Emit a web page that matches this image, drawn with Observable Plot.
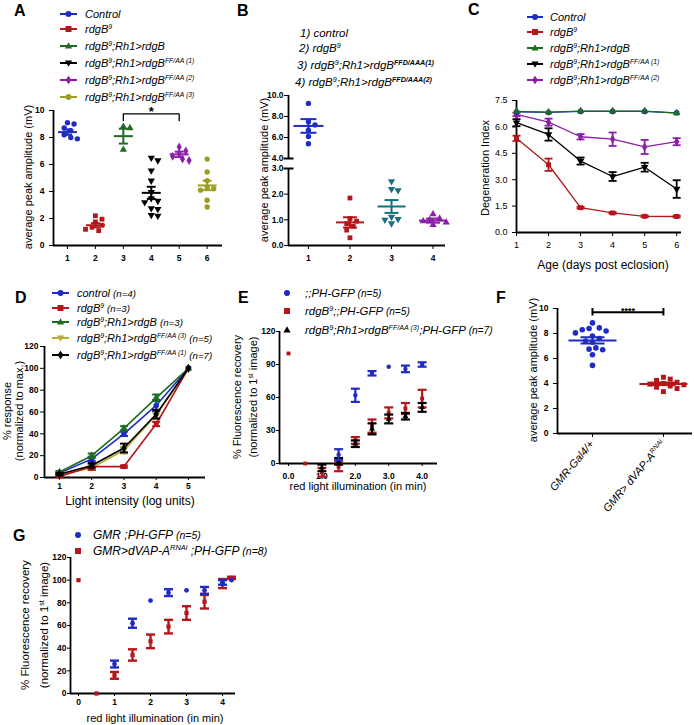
<!DOCTYPE html>
<html><head><meta charset="utf-8">
<script src="https://cdn.jsdelivr.net/npm/d3@7"></script>
<script src="https://cdn.jsdelivr.net/npm/@observablehq/plot@0.6"></script>
<style>
html,body{margin:0;padding:0;background:#fff;}
#root{position:relative;width:694px;height:725px;overflow:hidden;font-family:"Liberation Sans",Arial,Helvetica,sans-serif;color:#000;background:#fff;}
.t{position:absolute;white-space:nowrap;line-height:13px;}
.lg{font-style:italic;font-size:11px;}
.ax{font-size:11px;text-align:center;}
.s{font-size:0.62em;vertical-align:0.55em;line-height:0;}
.n{font-size:0.88em;}
.L{font-weight:bold;font-size:16px;line-height:16px;}
</style></head><body><div id="root"></div><script>
// ================= DATA =================
// Panel A : average peak amplitude (mV), groups 1..6
const aGroups = [1, 2, 3, 4, 5, 6];
const aLegend = ["Control", "rdgB<span class='s'>9</span>", "rdgB<span class='s'>9</span>;Rh1&gt;rdgB",
  "rdgB<span class='s'>9</span>;Rh1&gt;rdgB<span class='s'>FF/AA (1)</span>",
  "rdgB<span class='s'>9</span>;Rh1&gt;rdgB<span class='s'>FF/AA (2)</span>",
  "rdgB<span class='s'>9</span>;Rh1&gt;rdgB<span class='s'>FF/AA (3)</span>"];
const aControl = [9.1, 9.0, 8.7, 8.5, 8.2, 8.0, 7.9];
const aRdgB9 = [2.2, 1.95, 1.75, 1.5, 1.35, 1.2, 1.1];
const aRescue = [8.8, 8.7, 7.1];
const aFF1 = [6.5, 6.3, 5.55, 4.8, 3.95, 3.5, 3.3, 3.2, 2.75, 2.7, 2.25, 2.2];
const aFF2 = [7.3, 7.0, 6.8, 6.6, 6.4, 6.3];
const aFF3 = [6.4, 5.45, 4.8, 4.3, 4.2, 4.1, 3.35, 2.85];
const aMean = [8.4, 1.5, 8.1, 3.9, 6.75, 4.45];
const aSem = [0.2, 0.15, 0.55, 0.45, 0.2, 0.35];
const aYTicks = [0, 2, 4, 6, 8, 10];
const aSig = {from: 3, to: 5, level: 9.75, drop: 9.25, label: "*"};

// Panel B
const bGroups = [1, 2, 3, 4];
const bKey = ["1) control", "2) rdgB<span class='s'>9</span>",
  "3) rdgB<span class='s'>9</span>;Rh1&gt;rdgB<span class='s' style='font-weight:bold'>FFD/AAA(1)</span>",
  "4) rdgB<span class='s'>9</span>;Rh1&gt;rdgB<span class='s' style='font-weight:bold'>FFD/AAA(2)</span>"];
const bControl = [9.25, 7.5, 7.2, 6.7, 6.1, 5.4];
const bRdgB9 = [1.85, 1.05, 0.95, 0.85, 0.75, 0.6, 0.3];
const bFFD1 = [2.5, 2.2, 2.15, 1.12, 1.03, 1.0, 0.86];
const bFFD2 = [1.22, 1.05, 1.0, 0.95, 0.9, 0.8];
const bMean = [7.1, 0.9, 1.52, 0.97];
const bSem = [0.65, 0.2, 0.25, 0.08];
const bUpperTicks = [4, 6, 8, 10];
const bLowerTicks = [0, 1, 2, 3];

// Panel C : degeneration index vs age
const cDays = [1, 2, 3, 4, 5, 6];
const cLegend = ["Control", "rdgB<span class='s'>9</span>", "rdgB<span class='s'>9</span>;Rh1&gt;rdgB",
  "rdgB<span class='s'>9</span>;Rh1&gt;rdgB<span class='s'>FF/AA (1)</span>",
  "rdgB<span class='s'>9</span>;Rh1&gt;rdgB<span class='s'>FF/AA (2)</span>"];
const cControl = [6.85, 6.82, 6.88, 6.88, 6.88, 6.8];
const cRescue = [6.88, 6.84, 6.9, 6.9, 6.9, 6.78];
const cRdgB9 = [5.35, 3.85, 1.41, 1.11, 0.92, 0.91];
const cRdgB9Err = [0.15, 0.35, 0.05, 0.05, 0.05, 0.05];
const cFF1 = [6.24, 5.57, 4.06, 3.18, 3.71, 2.47];
const cFF1Err = [0.2, 0.35, 0.2, 0.25, 0.25, 0.5];
const cFF2 = [6.71, 6.27, 5.44, 5.3, 4.86, 5.16];
const cFF2Err = [0.1, 0.2, 0.15, 0.38, 0.4, 0.2];
const cYTicks = [0, 1.5, 3, 4.5, 6, 7.5];

// Panel D : % response vs light intensity
const dIntensity = [1, 2, 3, 4, 5];
const dLegend = ["control <span class='n'>(n=4)</span>", "rdgB<span class='s'>9</span> <span class='n'>(n=3)</span>",
  "rdgB<span class='s'>9</span>;Rh1&gt;rdgB <span class='n'>(n=3)</span>",
  "rdgB<span class='s'>9</span>;Rh1&gt;rdgB<span class='s'>FF/AA (3)</span> <span class='n'>(n=5)</span>",
  "rdgB<span class='s'>9</span>;Rh1&gt;rdgB<span class='s'>FF/AA (1)</span> <span class='n'>(n=7)</span>"];
const dControl = [4, 17, 40, 66, 100];
const dControlErr = [1, 2, 2, 5, 0];
const dRdgB9 = [1, 10, 10, 49, 100];
const dRdgB9Err = [0.5, 3, 1, 2, 0];
const dRescue = [5, 20, 45, 73, 100];
const dRescueErr = [1, 2, 2, 3, 0];
const dFF3 = [2, 9, 25, 57, 100];
const dFF3Err = [0.5, 2, 3, 3, 0];
const dFF1 = [3, 11, 27, 58, 100];
const dFF1Err = [1, 2, 4, 4, 0];
const dYTicks = [0, 20, 40, 60, 80, 100, 120];

// Panel E : fluorescence recovery vs time
const eTime = [0, 0.5, 1, 1.5, 2, 2.5, 3, 3.5, 4];
const eLegend = [";;PH-GFP <span class='n'>(n=5)</span>", "rdgB<span class='s'>9</span>;;PH-GFP <span class='n'>(n=5)</span>",
  "rdgB<span class='s'>9</span>;Rh1&gt;rdgB<span class='s'>FF/AA (3)</span>;PH-GFP <span class='n'>(n=7)</span>"];
const eControl = [null, null, null, 8, 62, 82, 88, 86, 90];
const eControlErr = [0, 0, 0, 5, 6, 2, 0, 3, 2];
const eRdgB9 = [100, 0, -8, -3, 21, 34, 46, 50, 59];
const eRdgB9Err = [0, 0, 4, 4, 3, 6, 5, 5, 8];
const eFF3 = [null, null, -4, 2, 18, 31.5, 40.5, 43, 51];
const eFF3Err = [0, 0, 3, 3, 3, 5, 4, 3, 4];
const eXTicks = [0, 1, 2, 3, 4];
const eYTicks = [0, 30, 60, 90, 120];

// Panel F
const fGroups = [1, 2];
const fTickLabels = ["GMR-Gal4/+", "GMR&gt; dVAP-A<span class='s'>RNAi</span>"];
const fControl = [8.85, 8.45, 8.4, 8.3, 8.2, 8.05, 7.8, 7.6, 7.4, 7.3, 6.85, 6.75, 6.7, 6.3, 5.45];
const fVap = [4.5, 4.35, 4.25, 4.1, 4.0, 3.95, 3.9, 3.8, 3.7, 3.6, 3.35];
const fMean = [7.45, 3.97];
const fSem = [0.25, 0.1];
const fYTicks = [0, 2, 4, 6, 8, 10];
const fSig = {from: 1, to: 2, level: 9.7, low: 9.4, high: 10.0, label: "****"};

// Panel G
const gTime = [0, 0.5, 1, 1.5, 2, 2.5, 3, 3.5, 4, 4.25];
const gLegend = ["GMR ;PH-GFP <span class='n'>(n=5)</span>", "GMR&gt;dVAP-A<span class='s'>RNAi</span> ;PH-GFP <span class='n'>(n=8)</span>"];
const gControl = [null, null, 26, 62, 82, 89, 91, 91, 98, 100];
const gControlErr = [0, 0, 3, 4, 0, 3, 0, 3, 2, 0];
const gVap = [100, 0, 16, 34, 46, 59, 71, 81, 97, 102];
const gVapErr = [0, 0, 3, 5, 6, 6, 6, 6, 4, 1];
const gXTicks = [0, 1, 2, 3, 4];
const gYTicks = [0, 20, 40, 60, 80, 100, 120];

// ================= STYLE =================
const BLUE = "#1f2bc4", RED = "#b3161b", GREEN = "#1e6b22", PURPLE = "#8c1fa8",
      OLIVE = "#9e9c25", TEAL = "#1b6f7c", BLACK = "#000000", YELLOW = "#b5ae35";
const FONT = '"Liberation Sans", Arial, Helvetica, sans-serif';
const TICK = 8.5;
const root = document.getElementById("root");

function pstyle(size = TICK, weight = "bold") {
  return {fontFamily: FONT, fontSize: size + "px", fontWeight: weight, background: "transparent", overflow: "visible", color: "#000"};
}
function put(html, x, y, cls = "", css = "") {
  const d = document.createElement("div");
  d.className = "t " + cls; d.innerHTML = html;
  d.style.left = x + "px"; d.style.top = y + "px";
  if (css) d.style.cssText += css;
  root.appendChild(d); return d;
}
function putMid(html, x, y, cls = "", css = "") { return put(html, x, y, cls, "transform:translateY(-50%);" + css); }
function putRot(html, cx, cy, cls = "", css = "") { return put(html, cx, cy, cls, "transform:translate(-50%,-50%) rotate(-90deg);" + css); }
function addPlot(svg, x, y) {
  svg.style.position = "absolute"; svg.style.left = x + "px"; svg.style.top = y + "px";
  root.appendChild(svg);
}

const sq3 = Math.sqrt(3);
const triDown = {draw(ctx, size) { const y = -Math.sqrt(size / (sq3 * 3)); ctx.moveTo(0, -y * 2); ctx.lineTo(-sq3 * y, y); ctx.lineTo(sq3 * y, y); ctx.closePath(); }};
const hbar = {draw(ctx, size) { const r = Math.sqrt(size / Math.PI); ctx.moveTo(-r, 0); ctx.lineTo(r, 0); }};
function sym(shape) { return shape === "triDown" ? triDown : shape; }

function symbolSVG(shape, color, line, w) {
  const h = 10, cx = w / 2, cy = 5;
  let m = "";
  if (shape === "circle") m = `<circle cx="${cx}" cy="${cy}" r="3" fill="${color}"/>`;
  else if (shape === "square") m = `<rect x="${cx - 3}" y="${cy - 3}" width="6" height="6" fill="${color}"/>`;
  else if (shape === "triangle") m = `<path d="M${cx},${cy - 3.8}L${cx + 3.6},${cy + 2.6}L${cx - 3.6},${cy + 2.6}Z" fill="${color}"/>`;
  else if (shape === "triDown") m = `<path d="M${cx},${cy + 3.8}L${cx + 3.6},${cy - 2.6}L${cx - 3.6},${cy - 2.6}Z" fill="${color}"/>`;
  else if (shape === "diamond") m = `<path d="M${cx},${cy - 4.2}L${cx + 3},${cy}L${cx},${cy + 4.2}L${cx - 3},${cy}Z" fill="${color}"/>`;
  const l = line ? `<line x1="0" x2="${w}" y1="${cy}" y2="${cy}" stroke="${color}" stroke-width="2"/>` : "";
  return `<svg width="${w}" height="${h}" style="display:block">${l}${m}</svg>`;
}
function legend(labels, colors, shapes, line, symX, symW, textX, rows, fontSize = 11) {
  labels.forEach((lab, i) => {
    put(symbolSVG(shapes[i], colors[i], line, symW), symX, rows[i] - 5);
    putMid(lab, textX, rows[i], "lg", `font-size:${fontSize}px;`);
  });
}

function swarm(vals, yPx, xPx, d) {
  const order = vals.map((_, i) => i).sort((a, b) => vals[b] - vals[a]);
  const placed = [], off = new Array(vals.length).fill(0);
  for (const i of order) {
    const py = vals[i] * yPx;
    for (let k = 0; k < 60; k++) {
      const c = k === 0 ? 0 : (k % 2 ? 1 : -1) * Math.ceil(k / 2) * d * 0.55;
      if (placed.every(p => Math.hypot(p.x - c, p.y - py) >= d)) { placed.push({x: c, y: py}); off[i] = c / xPx; break; }
    }
  }
  return off;
}

function scatterGroup(x, vals, mean, sem, color, shape, o) {
  const off = swarm(vals, o.yPx, o.xPx, 2 * o.r + 0.6);
  const pts = vals.map((v, i) => ({x: x + off[i], y: v}));
  const m = [{x, y: mean, lo: mean - sem, hi: mean + sem}];
  return [
    Plot.dot(pts, {x: "x", y: "y", symbol: sym(shape), r: o.r, fill: color, stroke: "none"}),
    Plot.ruleX(m, {x: "x", y1: "lo", y2: "hi", stroke: color, strokeWidth: 2}),
    Plot.dot(m, {x: "x", y: "y", symbol: hbar, r: o.mw, stroke: color, fill: "none", strokeWidth: 2}),
    Plot.dot(m, {x: "x", y: "lo", symbol: hbar, r: o.cw, stroke: color, fill: "none", strokeWidth: 2}),
    Plot.dot(m, {x: "x", y: "hi", symbol: hbar, r: o.cw, stroke: color, fill: "none", strokeWidth: 2})
  ];
}

function series(xs, ys, es) {
  return xs.map((x, i) => ({x, y: ys[i], e: es ? es[i] : 0})).filter(d => d.y !== null);
}
function errMarks(pts, color, shape, r, capR, sw = 2) {
  const we = pts.filter(d => d.e > 0);
  return [
    Plot.ruleX(we, {x: "x", y1: d => d.y - d.e, y2: d => d.y + d.e, stroke: color, strokeWidth: sw}),
    Plot.dot(we, {x: "x", y: d => d.y - d.e, symbol: hbar, r: capR, stroke: color, fill: "none", strokeWidth: sw}),
    Plot.dot(we, {x: "x", y: d => d.y + d.e, symbol: hbar, r: capR, stroke: color, fill: "none", strokeWidth: sw}),
    Plot.dot(pts, {x: "x", y: "y", symbol: sym(shape), r, fill: color, stroke: "none"})
  ];
}
function axesLines(x0, y0) {
  return [Plot.ruleX([x0], {stroke: "#000", strokeWidth: 1.8}), Plot.ruleY([y0], {stroke: "#000", strokeWidth: 1.8})];
}

// ================= PANEL A =================
{
  const xd = [0.5, 6.55];
  const groups = [aControl, aRdgB9, aRescue, aFF1, aFF2, aFF3];
  const colors = [BLUE, RED, GREEN, BLACK, PURPLE, OLIVE];
  const shapes = ["circle", "square", "triangle", "triDown", "diamond", "circle"];
  const o = {yPx: 13.5, xPx: 28, r: 2.7, mw: 9.5, cw: 4.5};
  const br = [{x: aSig.from, y: aSig.drop}, {x: aSig.from, y: aSig.level}, {x: aSig.to, y: aSig.level}, {x: aSig.to, y: aSig.drop}];
  const svg = Plot.plot({
    width: 228, height: 170, marginLeft: 53, marginTop: 10, marginBottom: 25, marginRight: 6,
    style: pstyle(),
    x: {domain: xd, ticks: aGroups, tickFormat: d => d, tickSize: 4, label: null},
    y: {domain: [0, 10], ticks: aYTicks, tickSize: 4, label: null},
    marks: [
      ...axesLines(xd[0], 0),
      ...groups.flatMap((g, i) => scatterGroup(aGroups[i], g, aMean[i], aSem[i], colors[i], shapes[i], o)),
      Plot.line(br, {x: "x", y: "y", stroke: "#000", strokeWidth: 1.3}),
      Plot.text([aSig], {x: d => (d.from + d.to) / 2, y: "level", text: "label", dy: -2, fontSize: 13, fontWeight: "bold"})
    ]
  });
  addPlot(svg, 0, 100);
  put("A", 14, 3, "L");
  legend(aLegend, colors, shapes, true, 60, 17, 85, [14, 29, 46, 63, 80, 97]);
  putRot("average peak amplitude (mV)", 28, 177, "ax");
}

// ================= PANEL B =================
{
  const xd = [0.52, 4.3];
  const o = {yPx: 10.5, xPx: 41.7, r: 2.7, mw: 15, cw: 8};
  const up = Plot.plot({
    width: 200, height: 77, marginLeft: 38, marginTop: 10, marginBottom: 4, marginRight: 5,
    style: pstyle(),
    x: {domain: xd, axis: null},
    y: {domain: [4, 10], ticks: bUpperTicks, tickSize: 4, tickPadding: 1, label: null},
    marks: [
      Plot.ruleX([xd[0]], {stroke: "#000", strokeWidth: 1.8}),
      Plot.dot([{x: xd[0], y: bUpperTicks[0]}], {x: "x", y: "y", symbol: hbar, r: 5, stroke: "#000", strokeWidth: 2}),
      ...scatterGroup(bGroups[0], bControl, bMean[0], bSem[0], BLUE, "circle", o)
    ]
  });
  addPlot(up, 250, 85);
  const o2 = {yPx: 25.7, xPx: 41.7, r: 2.7, mw: 14, cw: 7};
  const lo = Plot.plot({
    width: 200, height: 105, marginLeft: 38, marginTop: 8, marginBottom: 20, marginRight: 5,
    style: pstyle(),
    x: {domain: xd, ticks: bGroups, tickFormat: d => d, tickSize: 4, label: null},
    y: {domain: [0, 3], ticks: bLowerTicks, tickSize: 4, tickPadding: 1, label: null},
    marks: [
      ...axesLines(xd[0], 0),
      Plot.dot([{x: xd[0], y: bLowerTicks[3]}], {x: "x", y: "y", symbol: hbar, r: 5, stroke: "#000", strokeWidth: 2}),
      ...scatterGroup(bGroups[1], bRdgB9, bMean[1], bSem[1], RED, "square", o2),
      ...scatterGroup(bGroups[2], bFFD1, bMean[2], bSem[2], TEAL, "triDown", o2),
      ...scatterGroup(bGroups[3], bFFD2, bMean[3], bSem[3], PURPLE, "triangle", o2)
    ]
  });
  addPlot(lo, 250, 160);
  put("B", 237, 3, "L");
  const bx = [300, 299, 297, 295], by = [33, 48, 65, 82];
  bKey.forEach((k, i) => putMid(k, bx[i], by[i], "lg", "font-size:11.5px;"));
  putRot("average peak amplitude (mV)", 264, 170, "ax");
}

// ================= PANEL C =================
{
  const xd = [1, 6.15];
  const S = [
    {d: series(cDays, cRdgB9, cRdgB9Err), c: RED, s: "square"},
    {d: series(cDays, cFF1, cFF1Err), c: BLACK, s: "triDown"},
    {d: series(cDays, cFF2, cFF2Err), c: PURPLE, s: "diamond"},
    {d: series(cDays, cControl, null), c: BLUE, s: "circle"},
    {d: series(cDays, cRescue, null), c: GREEN, s: "triangle"}
  ];
  const svg = Plot.plot({
    width: 218, height: 180, marginLeft: 46, marginTop: 10, marginBottom: 38, marginRight: 7,
    style: pstyle(9, "normal"),
    x: {domain: xd, ticks: cDays, tickFormat: d => d, tickSize: 4, label: null},
    y: {domain: [0, 7.5], ticks: cYTicks, tickFormat: d3.format(".1f"), tickSize: 4, label: null},
    marks: [
      ...axesLines(xd[0], 0),
      ...S.flatMap(s => [Plot.line(s.d, {x: "x", y: "y", stroke: s.c, strokeWidth: 1.3}), ...errMarks(s.d, s.c, s.s, 2.8, 4, 1.8)])
    ]
  });
  addPlot(svg, 470, 90);
  put("C", 468, 2, "L");
  legend(cLegend, [BLUE, RED, GREEN, BLACK, PURPLE], ["circle", "square", "triangle", "triDown", "diamond"], true, 527, 16, 550, [17, 32, 48, 64, 80]);
  putRot("Degeneration Index", 485, 168, "ax");
  putMid("Age (days post eclosion)", 603, 265, "ax", "transform:translate(-50%,-50%);font-size:12px;");
}

// ================= PANEL D =================
{
  const xd = [0.535, 5.53];
  const S = [
    {d: series(dIntensity, dFF3, dFF3Err), c: YELLOW, s: "triDown"},
    {d: series(dIntensity, dRdgB9, dRdgB9Err), c: RED, s: "square"},
    {d: series(dIntensity, dControl, dControlErr), c: BLUE, s: "circle"},
    {d: series(dIntensity, dRescue, dRescueErr), c: GREEN, s: "triangle"},
    {d: series(dIntensity, dFF1, dFF1Err), c: BLACK, s: "diamond"}
  ];
  const svg = Plot.plot({
    width: 210, height: 161, marginLeft: 44, marginTop: 10, marginBottom: 20, marginRight: 5,
    style: pstyle(),
    x: {domain: xd, ticks: dIntensity, tickFormat: d => d, tickSize: 3, tickPadding: 2, label: null},
    y: {domain: [0, 120], ticks: dYTicks, tickSize: 4, tickPadding: 2, label: null},
    marks: [
      ...axesLines(xd[0], 0),
      ...S.flatMap(s => [Plot.line(s.d, {x: "x", y: "y", stroke: s.c, strokeWidth: 1.6}), ...errMarks(s.d, s.c, s.s, 2.8, 4, 2)])
    ]
  });
  addPlot(svg, 0, 336);
  put("D", 15, 290, "L");
  legend(dLegend, [BLUE, RED, GREEN, YELLOW, BLACK], ["circle", "square", "triangle", "triDown", "diamond"], true, 52, 17, 77, [293, 308, 322, 338, 355]);
  putRot("% response<br>(normalized to max.)", 13, 411, "ax", "line-height:12px;");
  putMid("Light intensity (log units)", 130, 501, "ax", "transform:translate(-50%,-50%);font-size:12px;");
}

// ================= PANEL E =================
{
  const xd = [-0.27, 4.46];
  const S = [
    {d: series(eTime, eRdgB9, eRdgB9Err), c: RED, s: "square"},
    {d: series(eTime, eFF3, eFF3Err), c: BLACK, s: "triangle"},
    {d: series(eTime, eControl, eControlErr), c: BLUE, s: "circle"}
  ];
  const svg = Plot.plot({
    width: 215, height: 164, marginLeft: 49, marginTop: 10, marginBottom: 22, marginRight: 8,
    style: pstyle(),
    x: {domain: xd, ticks: eXTicks, tickFormat: d3.format(".1f"), tickSize: 3, label: null},
    y: {domain: [0, 120], ticks: eYTicks, tickSize: 3, tickPadding: 1, label: null},
    marks: [
      ...axesLines(xd[0], 0),
      ...S.flatMap(s => errMarks(s.d, s.c, s.s, 2.2, 4.5, 2.2))
    ]
  });
  addPlot(svg, 230, 321);
  put("E", 238, 290, "L");
  legend(eLegend, [BLUE, RED, BLACK], ["circle", "square", "triangle"], false, 282, 10, 305, [293, 311, 330], 11.5);
  putRot("% Fluorescence recovery<br>(normalized to 1<span class='s'>st</span> image)", 245, 397, "ax", "line-height:16px;");
  putMid("red light illumination (in min)", 358, 486, "ax", "transform:translate(-50%,-50%);");
}

// ================= PANEL F =================
{
  const xd = [0.507, 2.41];
  const o = {yPx: 12.5, xPx: 71, r: 2.8, mw: 24, cw: 12};
  const svg = Plot.plot({
    width: 184, height: 150, marginLeft: 47, marginTop: 10, marginBottom: 15, marginRight: 2,
    style: pstyle(),
    x: {domain: xd, ticks: fGroups, tickFormat: () => "", tickSize: 4, label: null},
    y: {domain: [0, 10], ticks: fYTicks, tickSize: 4, label: null},
    marks: [
      ...axesLines(xd[0], 0),
      ...scatterGroup(fGroups[0], fControl, fMean[0], fSem[0], BLUE, "circle", o),
      ...scatterGroup(fGroups[1], fVap, fMean[1], fSem[1], RED, "square", o),
      Plot.ruleY([fSig], {y: "level", x1: "from", x2: "to", stroke: "#000", strokeWidth: 2}),
      Plot.ruleX([fSig.from, fSig.to], {x: d => d, y1: fSig.low, y2: fSig.high, stroke: "#000", strokeWidth: 2}),
      Plot.text([fSig], {x: d => (d.from + d.to) / 2, y: "level", text: "label", dy: -1, fontSize: 9})
    ]
  });
  addPlot(svg, 510, 298);
  put("F", 496, 290, "L");
  putRot("average peak amplitude (mV)", 533, 370, "ax", "font-size:11px;");
  const fx = [592, 663];
  fTickLabels.forEach((t, i) => put(t, fx[i], 442, "lg", "transform:translate(-100%,-50%) rotate(-50deg);transform-origin:100% 50%;font-size:11px;"));
}

// ================= PANEL G =================
{
  const xd = [-0.222, 4.36];
  const S = [
    {d: series(gTime, gVap, gVapErr), c: RED, s: "square"},
    {d: series(gTime, gControl, gControlErr), c: BLUE, s: "circle"}
  ];
  const svg = Plot.plot({
    width: 220, height: 168, marginLeft: 50, marginTop: 10, marginBottom: 22, marginRight: 5,
    style: pstyle(),
    x: {domain: xd, ticks: gXTicks, tickFormat: d => d, tickSize: 3, tickPadding: 2, label: null},
    y: {domain: [0, 120], ticks: gYTicks, tickSize: 3, tickPadding: 1, label: null},
    marks: [
      ...axesLines(xd[0], 0),
      ...S.flatMap(s => errMarks(s.d, s.c, s.s, 2.4, 4.5, 2.4))
    ]
  });
  addPlot(svg, 20, 547);
  put("G", 13, 528, "L");
  legend(gLegend, [BLUE, RED], ["circle", "square"], false, 73, 10, 93, [535, 551], 12);
  putRot("% Fluorescence recovery<br>(normalized to 1<span class='s'>st</span> image)", 35, 625, "ax", "line-height:19px;font-size:11.5px;");
  putMid("red light illumination (in min)", 155, 718, "ax", "transform:translate(-50%,-50%);font-size:11px;");
}
</script></body></html>
